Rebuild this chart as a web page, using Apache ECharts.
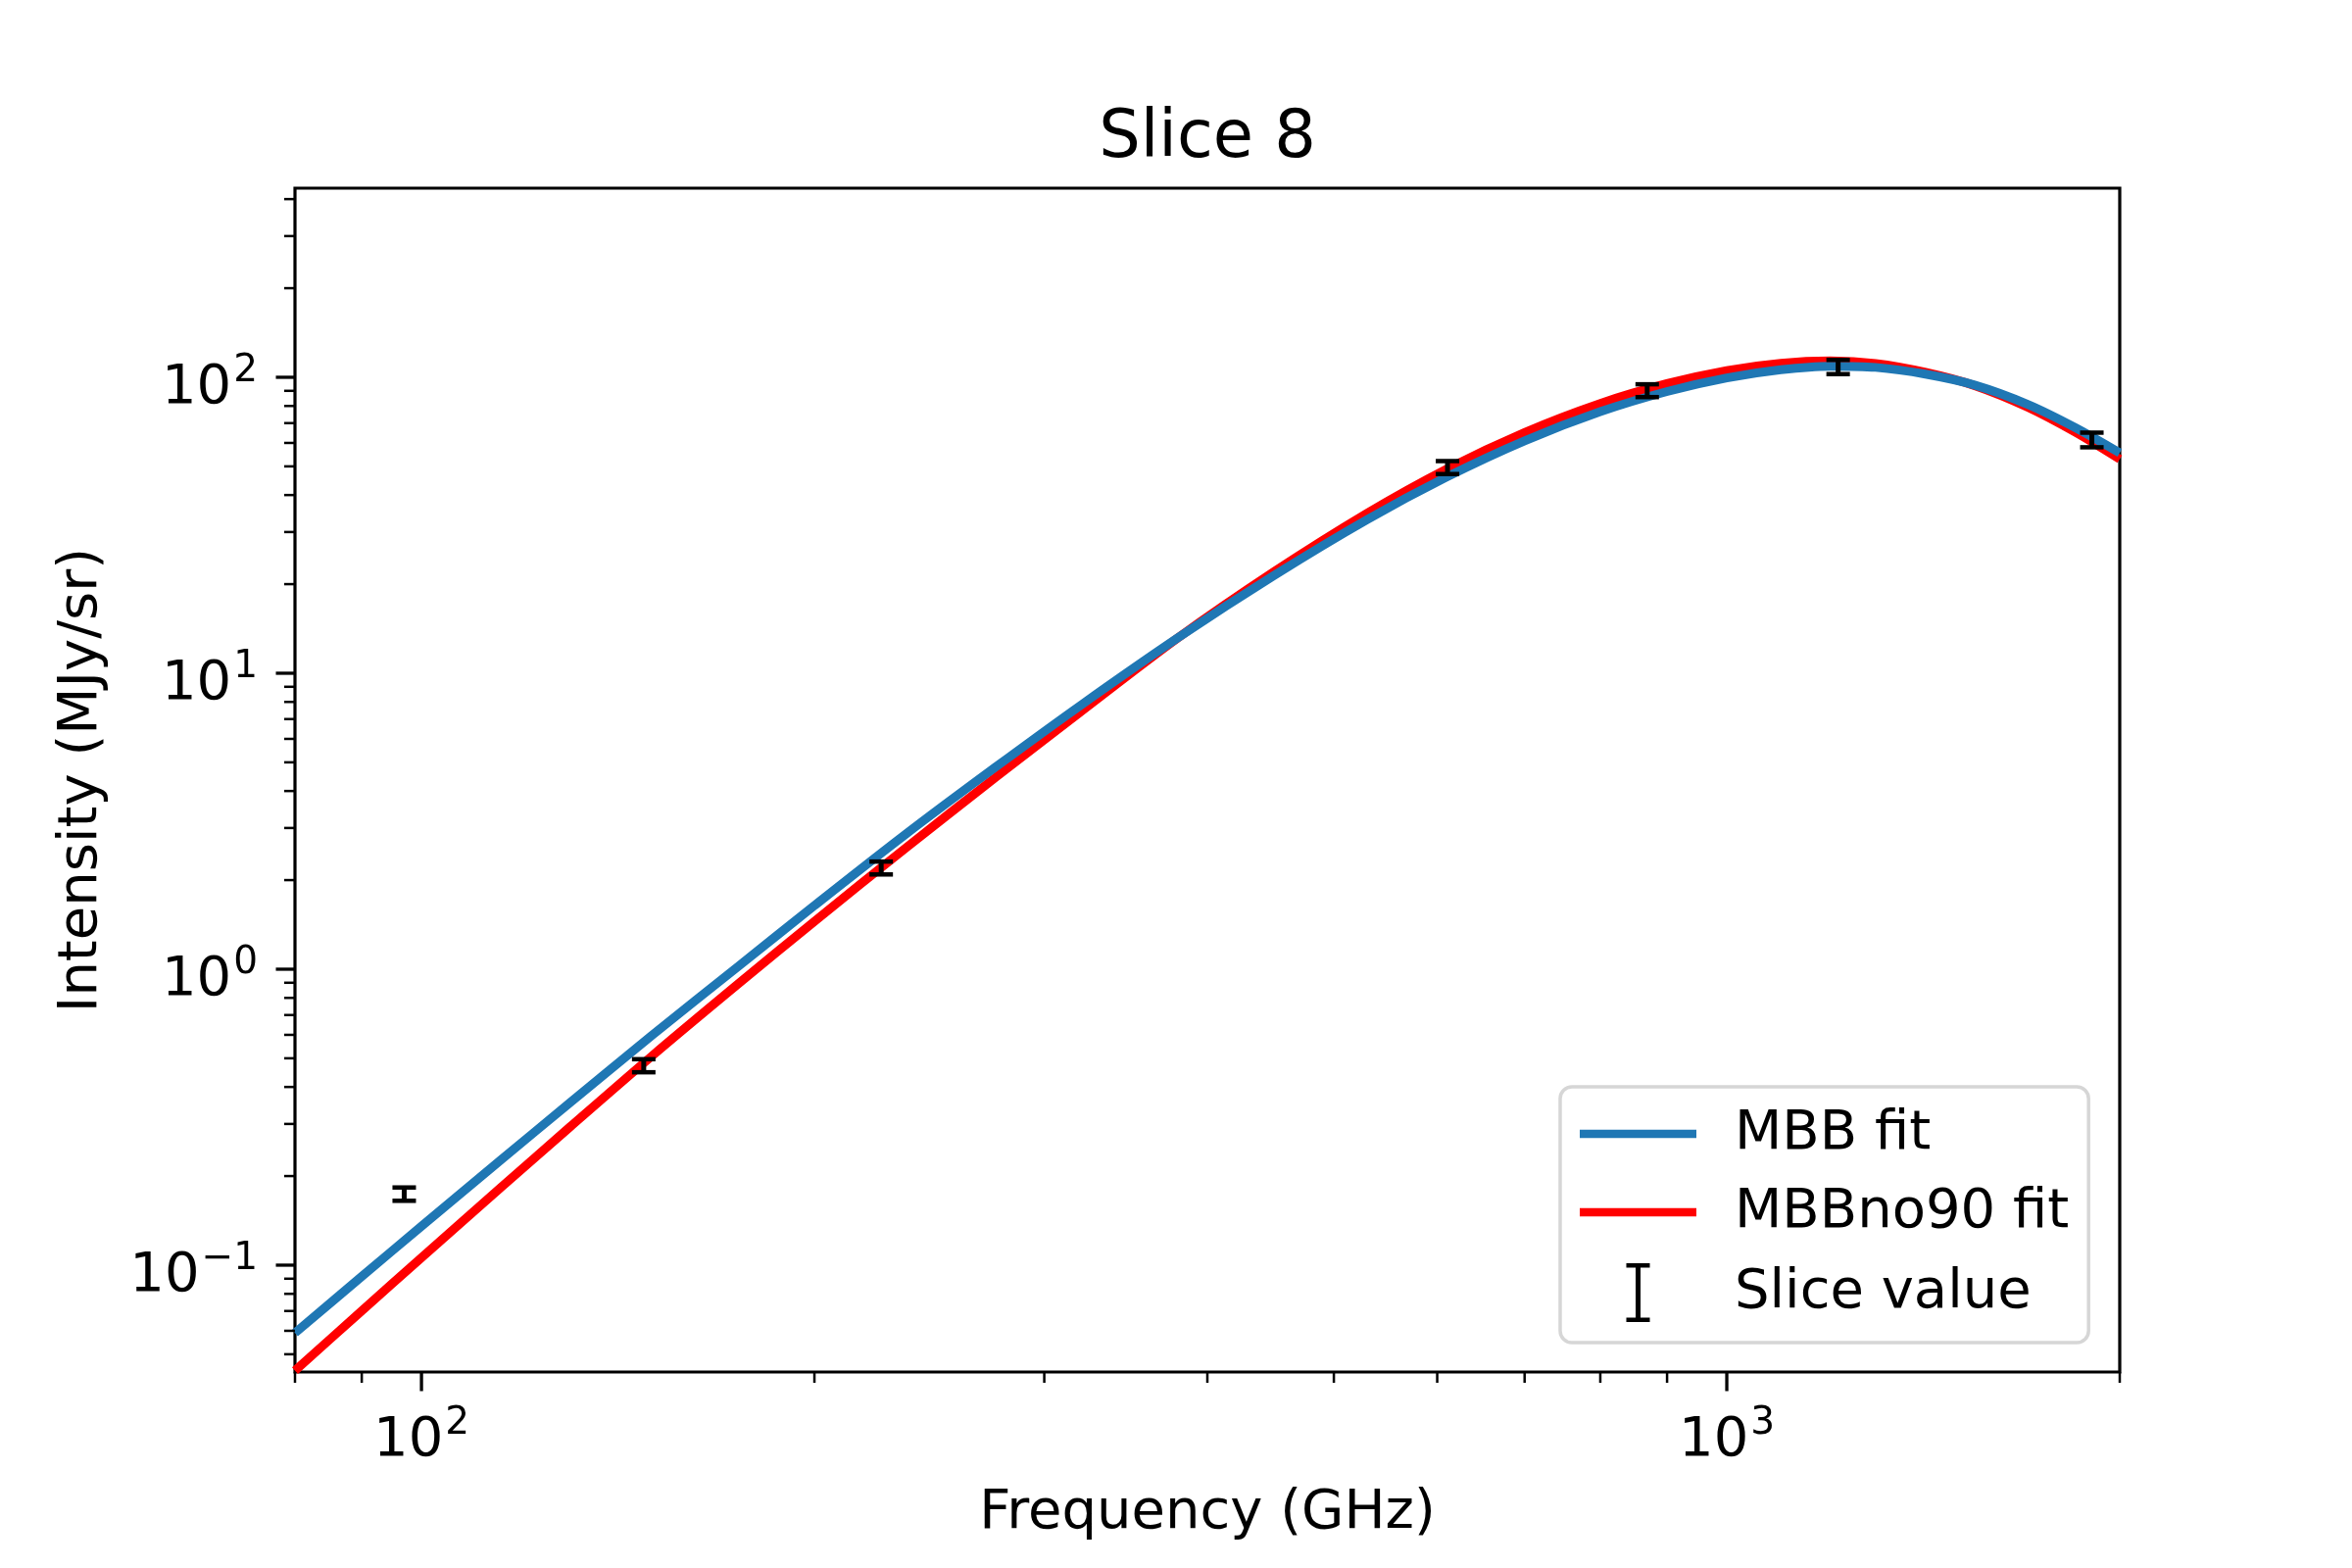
<!DOCTYPE html>
<html>
<head>
<meta charset="utf-8">
<script src="https://cdn.jsdelivr.net/npm/echarts@6/dist/echarts.min.js"></script>
<style>
html, body { margin: 0; padding: 0; background: #fff; }
#chart { width: 2400px; height: 1600px; }
</style>
</head>
<body>
<div id="chart"></div>
<script>
// ---- data ----
const freqCurve = [80, 90, 100, 115, 130, 150, 175, 200, 235, 275, 320, 380, 450, 530, 610, 700, 800, 900, 1000, 1100, 1200, 1300, 1420, 1550, 1700, 1850, 2000];
const mbbFit = [0.059, 0.0916, 0.1354, 0.2265, 0.3544, 0.595, 1.025, 1.64, 2.86, 4.80, 7.80, 13.2, 21.4, 33.0, 46.0, 61.0, 76.5, 89.5, 99.5, 106, 109, 108, 102.5, 94, 81, 67.5, 55.5];
const mbbNo90Fit = [0.0440, 0.0701, 0.106, 0.1828, 0.2935, 0.507, 0.895, 1.45, 2.57, 4.43, 7.42, 13.2, 22.05, 34.7, 48.95, 65.1, 81.6, 95.2, 105.4, 111.5, 113.6, 111.3, 103.9, 93.6, 79.3, 65.2, 52.9];

const freqData = [97, 148, 225, 611, 869, 1217, 1904];
const sliceVal = [0.174, 0.4725, 2.2, 49.6, 90.2, 108.5, 61.5];
const sliceErr = [0.009, 0.024, 0.11, 2.5, 4.5, 6.0, 3.5];

const xRange = [80, 2000];
const yRange = [0.04355, 435.5];

const xMajorTicks = [100, 1000];
const xMinorTicks = [80, 90, 200, 300, 400, 500, 600, 700, 800, 900, 2000];
const yMajorTicks = [0.1, 1, 10, 100];
const yMinorTicks = [0.05, 0.06, 0.07, 0.08, 0.09, 0.2, 0.3, 0.4, 0.5, 0.6, 0.7, 0.8, 0.9,
  2, 3, 4, 5, 6, 7, 8, 9, 20, 30, 40, 50, 60, 70, 80, 90, 200, 300, 400];

const titleText = 'Slice 8';
const xName = 'Frequency (GHz)';
const yName = 'Intensity (MJy/sr)';
const names = ['MBB fit', 'MBBno90 fit', 'Slice value'];

// ---- build ----
const F = '"DejaVu Sans", sans-serif';
const FS = 56;
const chart = echarts.init(document.getElementById('chart'), null, { renderer: 'canvas' });

function powLabel(v) {
  const e = Math.log10(v);
  const n = Math.round(e);
  if (Math.abs(e - n) > 1e-6) return '';
  return '{b|10}{s|' + (n < 0 ? '\u2212' + (-n) : String(n)) + '}';
}
const richPow = {
  b: { fontFamily: F, fontSize: FS, lineHeight: 65, verticalAlign: 'bottom', color: '#000' },
  s: { fontFamily: F, fontSize: 39, lineHeight: 35, verticalAlign: 'top', padding: [0, 0, 0, 2], color: '#000' }
};

const tickData = [];
xMajorTicks.forEach(v => tickData.push([v, yRange[0], 0]));
xMinorTicks.forEach(v => tickData.push([v, yRange[0], 1]));
yMajorTicks.forEach(v => tickData.push([xRange[0], v, 2]));
yMinorTicks.forEach(v => tickData.push([xRange[0], v, 3]));

const lineIcon = 'path://M0,0H119V8.5H0Z';
const errIcon = 'path://M0,0H24V4.5H14.5V55.5H24V60H0V55.5H9.5V4.5H0Z';

const option = {
  animation: false,
  backgroundColor: '#fff',
  grid: {
    left: 301, top: 192, width: 1862, height: 1208,
    show: true, borderColor: '#000', borderWidth: 3.2, backgroundColor: 'transparent'
  },
  graphic: [{
    type: 'text', x: 1232, y: 143,
    style: { text: titleText, font: '67px "DejaVu Sans", sans-serif', fill: '#000',
      textAlign: 'center', textVerticalAlign: 'middle', align: 'center', verticalAlign: 'middle' }
  }],
  xAxis: {
    type: 'log', logBase: 10, min: xRange[0], max: xRange[1],
    axisLine: { show: false }, axisTick: { show: false }, splitLine: { show: false },
    minorTick: { show: false }, minorSplitLine: { show: false },
    axisLabel: { formatter: powLabel, margin: 33, rich: richPow },
    name: xName, nameLocation: 'middle', nameGap: 116,
    nameTextStyle: { fontFamily: F, fontSize: FS, color: '#000' }
  },
  yAxis: {
    type: 'log', logBase: 10, min: yRange[0], max: yRange[1],
    axisLine: { show: false }, axisTick: { show: false }, splitLine: { show: false },
    minorTick: { show: false }, minorSplitLine: { show: false },
    axisLabel: { formatter: powLabel, margin: 38, rich: richPow, padding: [14, 0, 0, 0] },
    name: yName, nameLocation: 'middle', nameGap: 190,
    nameTextStyle: { fontFamily: F, fontSize: FS, color: '#000' }
  },
  legend: {
    orient: 'vertical', left: 1592, top: 1109,
    itemWidth: 119, itemHeight: 60, itemGap: 24,
    padding: [20, 20, 21, 20],
    backgroundColor: 'rgba(255,255,255,0.8)', borderColor: '#d6d6d6', borderWidth: 3.5, borderRadius: 12,
    data: [
      { name: names[0], icon: lineIcon },
      { name: names[1], icon: lineIcon },
      { name: names[2], icon: errIcon }
    ],
    formatter: n => '{t|' + n + '}',
    textStyle: { fontFamily: F, fontSize: FS, color: '#000',
      rich: { t: { fontFamily: F, fontSize: FS, color: '#000', padding: [0, 0, 0, 34] } } },
    selectedMode: false
  },
  series: [
    {
      type: 'line', name: names[1],
      data: freqCurve.map((f, i) => [f, mbbNo90Fit[i]]),
      showSymbol: false, symbol: 'none', smooth: 0.3,
      lineStyle: { color: '#ff0000', width: 9 }, itemStyle: { color: '#ff0000' }, z: 2
    },
    {
      type: 'line', name: names[0],
      data: freqCurve.map((f, i) => [f, mbbFit[i]]),
      showSymbol: false, symbol: 'none', smooth: 0.3,
      lineStyle: { color: '#1f77b4', width: 9 }, itemStyle: { color: '#1f77b4' }, z: 3
    },
    {
      type: 'custom', name: names[2],
      data: freqData.map((f, i) => [f, sliceVal[i], sliceErr[i]]),
      encode: { x: 0, y: 1 },
      itemStyle: { color: '#000' },
      z: 4,
      renderItem: function (params, api) {
        const x = api.value(0), y = api.value(1), e = api.value(2);
        const t = api.coord([x, y + e]);
        const b = api.coord([x, y - e]);
        const hw = 12;
        const sv = { stroke: '#000', lineWidth: 5 };
        const sc = { stroke: '#000', lineWidth: 4.5 };
        return {
          type: 'group',
          children: [
            { type: 'line', shape: { x1: t[0], y1: t[1], x2: b[0], y2: b[1] }, style: sv },
            { type: 'line', shape: { x1: t[0] - hw, y1: t[1], x2: t[0] + hw, y2: t[1] }, style: sc },
            { type: 'line', shape: { x1: b[0] - hw, y1: b[1], x2: b[0] + hw, y2: b[1] }, style: sc }
          ]
        };
      }
    },
    {
      type: 'custom', name: 'ticks', silent: true, clip: false,
      data: tickData, encode: { x: 0, y: 1 }, z: 5,
      renderItem: function (params, api) {
        const k = api.value(2);
        const p = api.coord([api.value(0), api.value(1)]);
        const major = (k === 0 || k === 2);
        const len = major ? 19.5 : 11;
        const lw = major ? 3.3 : 2.5;
        const shape = (k < 2)
          ? { x1: p[0], y1: p[1], x2: p[0], y2: p[1] + len }
          : { x1: p[0] - len, y1: p[1], x2: p[0], y2: p[1] };
        return { type: 'line', shape: shape, style: { stroke: '#000', lineWidth: lw } };
      }
    }
  ]
};
chart.setOption(option);
</script>
</body>
</html>
